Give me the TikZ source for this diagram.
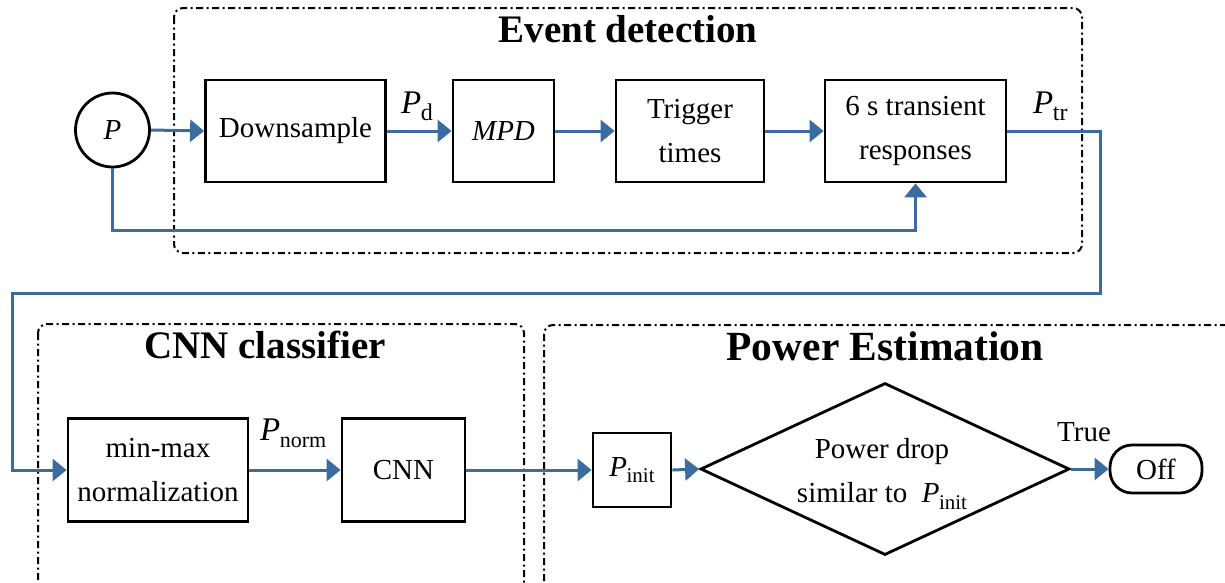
\documentclass[tikz,border=0pt]{standalone}
\usepackage{fontspec}
\setmainfont{Liberation Serif}
\usetikzlibrary{arrows.meta,shapes.geometric}
\definecolor{lnblue}{RGB}{58,108,160}
\newcommand\bodyfont{\fontsize{29}{44}\selectfont}
\newcommand\titlefont{\fontsize{39}{44}\selectfont\bfseries}
\newcommand\Psb[2]{\textit{P}\kern-0.5pt\raisebox{-0.22em}{\fontsize{#2}{#2}\selectfont #1}}
\begin{document}
\begin{tikzpicture}[x=1pt,y=-1pt,
 blk/.style={draw,line width=2.8pt,minimum height=102pt,inner sep=0pt,align=center,font=\bodyfont},
 conn/.style={draw=lnblue,line width=3pt},
 arr/.style={conn,-{Triangle[length=14pt,width=22pt]}},
 frame/.style={draw,line width=2pt,rounded corners=9pt,dash pattern=on 7pt off 3.5pt on 2pt off 3.5pt},
 ttl/.style={font=\titlefont,anchor=base,inner sep=0pt},
 lbl/.style={font=\fontsize{33}{33}\selectfont,anchor=base west,inner sep=0pt}]
\useasboundingbox (0,0) rectangle (1225,582);
\clip (0,0) rectangle (1225,582);

% frames
\draw[frame] (174,8) rectangle (1082,253);
\draw[frame] (38,324) rectangle (524,600);
\draw[frame] (544,325) rectangle (1245,600);

\node[ttl] (tED) at (628,42) {Event detection};
\node[ttl] (tCNN) at (265,358) {CNN classifier};
\node[ttl,font=\fontsize{41.5}{44}\selectfont\bfseries] (tPE) at (885,360) {Power Estimation};

% top row
\node[draw,circle,line width=2.8pt,minimum size=74pt,inner sep=0pt,font=\bodyfont] (pc) at (112.5,130) {\textit{P}};
\node[blk,minimum width=180pt] (ds) at (295.5,131) {Downsample};
\node[blk,minimum width=101pt] (mpd) at (503.5,131) {\textit{MPD}};
\node[blk,minimum width=148pt] (trig) at (690,131) {Trigger\\times};
\node[blk,minimum width=181pt] (trans) at (915.5,131) {6 s transient\\responses};

\node[lbl] (lPd) at (401,113) {\Psb{d}{24}};
\node[lbl] (lPtr) at (1033,113) {\Psb{tr}{24}};

% bottom row
\node[blk,minimum width=180pt,minimum height=103pt] (norm) at (158,470) {min-max\\normalization};
\node[blk,minimum width=123pt,minimum height=103pt] (cnn) at (403.5,470) {CNN};
\node[lbl] (lPn) at (260,440) {\Psb{norm}{22}};

\node[blk,minimum width=78pt,minimum height=74pt] (pinit) at (632,470) {\Psb{init}{21}};
\node[draw,diamond,line width=2.8pt,minimum width=369pt,minimum height=172pt,inner sep=0pt] (dia) at (885,469) {};
\node[align=center,font=\bodyfont,inner sep=0pt] (diatxt) at (882,474) {Power drop\\similar to \ \Psb{init}{21}};
\node[draw,line width=2.8pt,rounded corners=22pt,minimum width=92pt,minimum height=48pt,inner sep=0pt,font=\bodyfont] (off) at (1156,469) {Off};
\node[font=\bodyfont,anchor=base,inner sep=0pt] (ltrue) at (1084,441) {True};

% connectors
\coordinate (fbrow) at (0,230);
\coordinate (c1) at (1100,293);
\coordinate (c2) at (12,293);
\draw[arr] (pc.east) -- (ds.west);
\draw[arr] (ds.east) -- (mpd.west);
\draw[arr] (mpd.east) -- (trig.west);
\draw[arr] (trig.east) -- (trans.west);
\draw[arr] (pc.south) |- (trans.south |- fbrow) -- (trans.south);
\draw[arr] (trans.east) -| (c1) -- (c2) |- (norm.west);
\draw[arr] (norm.east) -- (cnn.west);
\draw[arr] (cnn.east) -- (pinit.west);
\draw[arr] (pinit.east) -- (dia.west);
\draw[arr] (dia.east) -- (off.west);
\end{tikzpicture}
\end{document}
